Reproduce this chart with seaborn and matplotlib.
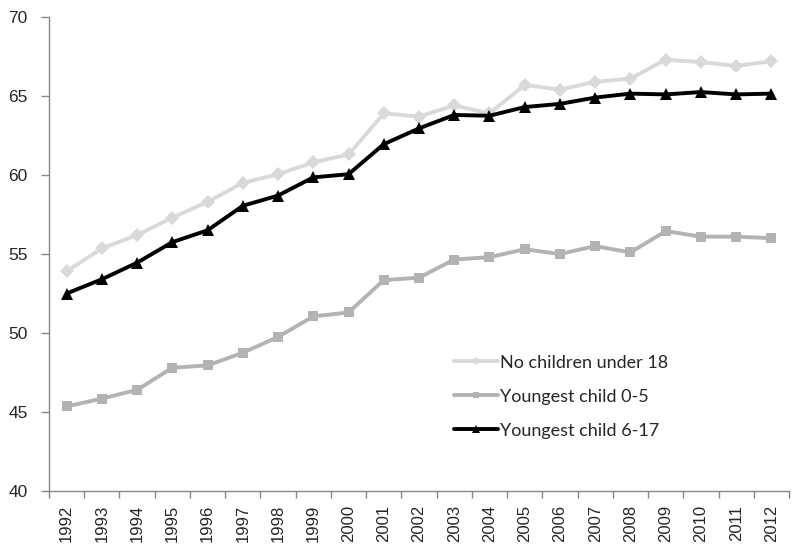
import matplotlib
matplotlib.use("Agg")
import matplotlib.pyplot as plt
import seaborn as sns
import pandas as pd
import numpy as np
from matplotlib.ticker import FixedLocator, MultipleLocator

years = list(range(1992, 2013))
no_children = [53.9, 55.35, 56.2, 57.3, 58.3, 59.5, 60.05, 60.8, 61.3, 63.9, 63.7,
               64.4, 63.9, 65.7, 65.4, 65.9, 66.1, 67.3, 67.15, 66.9, 67.2]
youngest_0_5 = [45.35, 45.85, 46.4, 47.8, 47.95, 48.75, 49.75, 51.05, 51.3, 53.35, 53.5,
                54.65, 54.8, 55.3, 55.0, 55.5, 55.1, 56.45, 56.1, 56.1, 56.0]
youngest_6_17 = [52.5, 53.4, 54.45, 55.75, 56.5, 58.05, 58.7, 59.85, 60.05, 61.95, 62.95,
                 63.8, 63.75, 64.3, 64.5, 64.9, 65.15, 65.1, 65.25, 65.1, 65.15]
series_names = ["No children under 18", "Youngest child 0-5", "Youngest child 6-17"]

df = pd.DataFrame({
    "year": years * 3,
    "value": no_children + youngest_0_5 + youngest_6_17,
    "series": [series_names[0]] * len(years) + [series_names[1]] * len(years) + [series_names[2]] * len(years),
})

sns.set_style("white")
plt.rcParams["font.family"] = ["Liberation Sans", "DejaVu Sans"]

colors = {series_names[0]: "#d9d9d9", series_names[1]: "#b3b3b3", series_names[2]: "#000000"}
markers = {series_names[0]: "D", series_names[1]: "s", series_names[2]: "^"}
msizes = {series_names[0]: 7.5, series_names[1]: 7.0, series_names[2]: 8.5}

fig = plt.figure(figsize=(7.96, 5.46), dpi=100)
ax = fig.add_axes([49 / 796, 1 - 491 / 546, 740 / 796, 474 / 546])

for name in series_names:
    sub = df[df["series"] == name]
    sns.lineplot(data=sub, x="year", y="value", ax=ax, color=colors[name],
                 marker=markers[name], markersize=msizes[name], markeredgewidth=0,
                 linewidth=2.8, label=name, legend=False)

ax.set_xlim(1991.5, 2012.5)
ax.set_ylim(40, 70)
ax.set_xlabel("")
ax.set_ylabel("")

ax.set_xticks(years)
ax.set_xticklabels([str(y) for y in years], rotation=90, fontsize=12,
                   family=["Liberation Sans", "DejaVu Sans"])
ax.xaxis.set_minor_locator(FixedLocator(np.arange(1991.5, 2013, 1.0)))
ax.tick_params(axis="x", which="major", length=0, pad=10)
ax.tick_params(axis="x", which="minor", length=5, color="#868686", width=1, direction="out", bottom=True)
ax.yaxis.set_major_locator(MultipleLocator(5))
ax.tick_params(axis="y", which="major", length=6, color="#868686", width=1, direction="out",
               left=True, labelsize=12.5, pad=9.4)
for lab in ax.get_yticklabels():
    lab.set_family(["Liberation Sans", "DejaVu Sans"])

for s in ["top", "right"]:
    ax.spines[s].set_visible(False)
for s in ["left", "bottom"]:
    ax.spines[s].set_color("#868686")
    ax.spines[s].set_linewidth(1)

handles, labels = ax.get_legend_handles_labels()
leg = fig.legend(handles, labels, loc="center left", bbox_to_anchor=(445 / 796, 1 - 396.7 / 546),
                 bbox_transform=fig.transFigure, frameon=False, borderpad=0, handlelength=2.45,
                 handletextpad=0.1, labelspacing=1.0, markerscale=0.6,
                 prop={"family": ["Lato", "DejaVu Sans"], "size": 13})

fig.savefig("out.png", dpi=100)
